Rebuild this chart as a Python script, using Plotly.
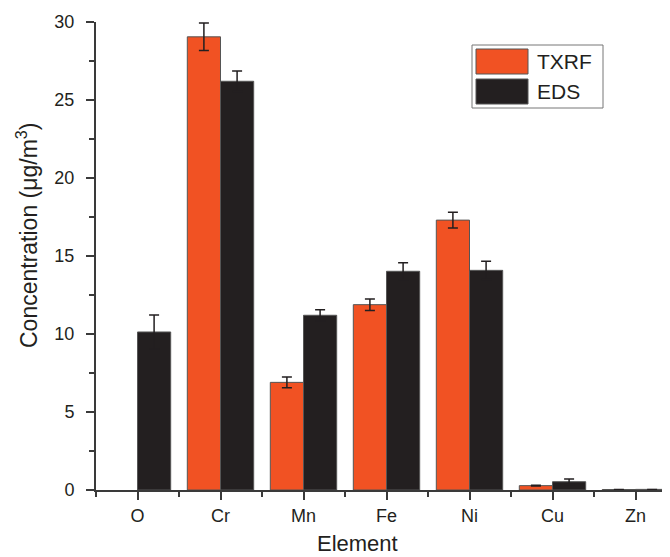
import plotly.graph_objects as go

elements = ["O", "Cr", "Mn", "Fe", "Ni", "Cu", "Zn"]
txrf = [None, 29.05, 6.9, 11.88, 17.3, 0.28, 0.03]
txrf_err = [0.0, 0.88, 0.35, 0.37, 0.51, 0.02, 0.0]
eds = [10.13, 26.2, 11.2, 14.02, 14.08, 0.53, 0.04]
eds_err = [1.09, 0.66, 0.36, 0.54, 0.58, 0.17, 0.0]
series_names = ["TXRF", "EDS"]
colors = ["#F15223", "#231F20"]

# page is rendered with an 8px body margin -> shrink the figure accordingly
OFF = 8
W, H = 670 - OFF, 557 - OFF
# plot area in page pixels
L, R, T, B = 96, 670, 22, 490
FONT = "Liberation Sans, Arial, sans-serif"

def px(x):
    return (x - L) / (R - L)

def py(y):
    return (B - y) / (B - T)

xpos = list(range(len(elements)))

fig = go.Figure()
for name, vals, errs, col in [(series_names[0], txrf, txrf_err, colors[0]),
                              (series_names[1], eds, eds_err, colors[1])]:
    fig.add_trace(go.Bar(
        x=xpos, y=vals, name=name,
        marker=dict(color=col, line=dict(color="#555555", width=1)),
        error_y=dict(type="data", array=errs, visible=True, color="#231F20",
                     thickness=1.5, width=5),
        showlegend=False,
    ))

fig.update_layout(
    width=W, height=H,
    margin=dict(l=L - OFF, r=W - (R - OFF), t=T - OFF, b=H - (B - OFF), autoexpand=False),
    paper_bgcolor="white", plot_bgcolor="white",
    barmode="group", bargap=0.2, bargroupgap=0,
    font=dict(family=FONT, size=18, color="#231F20"),
)
fig.update_xaxes(
    range=[-0.5, (R - L) / 83 - 0.5],
    tickmode="array", tickvals=xpos, ticktext=elements,
    showline=True, linecolor="#3a3a3a", linewidth=2,
    ticks="outside", ticklen=8, tickwidth=1.5, tickcolor="#3a3a3a",
    minor=dict(dtick=0.5, tick0=-0.5, ticks="outside", ticklen=5, tickwidth=1.5, tickcolor="#3a3a3a"),
    showgrid=False, zeroline=False, automargin=False,
    tickfont=dict(size=18), ticklabelstandoff=0,
)
fig.update_yaxes(
    range=[0, 30], dtick=5, tick0=0,
    showline=True, linecolor="#3a3a3a", linewidth=2,
    ticks="outside", ticklen=8, tickwidth=1.5, tickcolor="#3a3a3a",
    minor=dict(dtick=2.5, ticks="outside", ticklen=5, tickwidth=1.5, tickcolor="#3a3a3a"),
    showgrid=False, zeroline=False, automargin=False,
    tickfont=dict(size=18), ticklabelstandoff=8,
)

# axis titles
fig.add_annotation(text="Element", xref="paper", yref="paper",
                   x=px(357), y=py(543), showarrow=False,
                   font=dict(size=22), xanchor="center", yanchor="middle")
fig.add_annotation(text="Concentration (μg/m<sup>3</sup>)", xref="paper", yref="paper",
                   x=px(27), y=py(236), showarrow=False, textangle=-90,
                   font=dict(size=23), xanchor="center", yanchor="middle")

# legend box
shapes = [dict(type="rect", xref="paper", yref="paper",
               x0=px(472), x1=px(603), y0=py(108), y1=py(45),
               line=dict(color="#777777", width=1), fillcolor="white")]
legend_rows = [(49, 74), (79, 104)]
for (y0, y1), name, col in zip(legend_rows, series_names, colors):
    shapes.append(dict(type="rect", xref="paper", yref="paper",
                       x0=px(476), x1=px(528), y0=py(y1), y1=py(y0),
                       line=dict(color="#555555", width=1), fillcolor=col))
    fig.add_annotation(text=name, xref="paper", yref="paper",
                       x=px(535), y=py((y0 + y1) / 2), showarrow=False,
                       xanchor="left", yanchor="middle", font=dict(size=21))
fig.update_layout(shapes=shapes)

fig.write_html("out.html")
